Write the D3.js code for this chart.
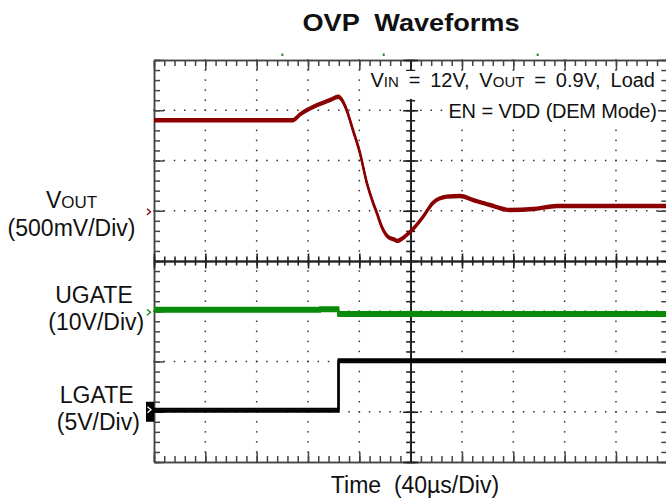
<!DOCTYPE html>
<html>
<head>
<meta charset="utf-8">
<script src="https://cdn.jsdelivr.net/npm/d3@7"></script>
<style>
  body { margin: 0; background: #fff; }
  text { font-family: "Liberation Sans", Arial, sans-serif; fill: #111; }
</style>
</head>
<body>
<svg id="chart" width="666" height="500"></svg>
<script>
// time in us (40us/div, centre = 0), values in volts
var voutTime = [-200, -92, -86, -73, -63, -56.4, -52.7, -49.8, -44.9, -39.5, -34.2, -29.3, -26.4, -22.5, -17.6, -12.2, -10.8, -3, 3.4, 9.7, 17.5, 28.1, 38.5, 48.7, 61.9, 77.5, 95.5, 114, 140, 200];
var voutVal = [0.9, 0.9, 0.96, 1.05, 1.10, 1.135, 1.085, 1.0, 0.8, 0.575, 0.28, 0.08, -0.02, -0.16, -0.26, -0.29, -0.30, -0.24, -0.16, -0.06, 0.08, 0.14, 0.147, 0.107, 0.057, 0.007, 0.017, 0.047, 0.047, 0.047];

var ugateTime = [-200, -70.6, -70.6, -56.4, -56.4, 200];
var ugateVal = [0.3, 0.3, 0.42, 0.42, -0.55, -0.55];

var lgateTime = [-200, -56.2, -56.2, 200];
var lgateVal = [0.15, 0.15, 5.07, 5.07];

var triggerMarks = [-100, -21, 99];

var svg = d3.select("#chart"),
  pLeft = 154, pTop = 60, pRight = 667.3, pBottom = 462;

var x = d3.scaleLinear().domain([-200, 200]).range([pLeft, pRight]);
var y = d3.scaleLinear().domain([-4, 4]).range([pBottom, pTop]);

var xMinor = d3.range(-200, 200.1, 8),
  xMajor = d3.range(-200, 200.1, 40),
  yMinor = d3.range(-4, 4.01, 0.2).map(function(d) { return Math.round(d * 10) / 10 }),
  yMajor = d3.range(-4, 4.01, 1);

// dotted grid
var grid = svg.append("g").attr("fill", "#333");
xMajor.filter(function(d) { return d != -200 && d != 0 && d != 200 }).forEach(function(t) {
  grid.selectAll(null).data(yMinor).enter().append("rect")
    .attr("x", x(t) - 0.75).attr("y", function(d) { return y(d) - 0.75 })
    .attr("width", 1.5).attr("height", 1.5);
});
yMajor.filter(function(d) { return d != -4 && d != 0 && d != 4 }).forEach(function(v) {
  grid.selectAll(null).data(xMinor).enter().append("rect")
    .attr("x", function(d) { return x(d) - 0.75 }).attr("y", y(v) - 0.75)
    .attr("width", 1.5).attr("height", 1.5);
});

// borders and centre axes with scope ticks
function scopeAxis(fn, scale, values, size) {
  return fn(scale).tickValues(values).tickSize(size).tickSizeOuter(0).tickFormat("");
}
function addAxis(axis, tx, ty, color, width) {
  var g = svg.append("g").attr("transform", "translate(" + tx + "," + ty + ")").call(axis);
  g.selectAll("path, line").attr("stroke", color).attr("stroke-width", width);
  return g;
}
var border = "#444";
addAxis(scopeAxis(d3.axisBottom, x, xMinor, 6), 0, pTop, border, 1.5);
addAxis(scopeAxis(d3.axisBottom, x, xMajor, 10), 0, pTop, border, 1.5);
addAxis(scopeAxis(d3.axisTop, x, xMinor, 6), 0, pBottom, border, 1.5);
addAxis(scopeAxis(d3.axisTop, x, xMajor, 10), 0, pBottom, border, 1.5);
addAxis(scopeAxis(d3.axisRight, y, yMinor, 6), pLeft, 0, border, 1.5);
addAxis(scopeAxis(d3.axisRight, y, yMajor, 10), pLeft, 0, border, 1.5);
addAxis(scopeAxis(d3.axisLeft, y, yMinor, 6), pRight, 0, border, 1.5);
addAxis(scopeAxis(d3.axisLeft, y, yMajor, 10), pRight, 0, border, 1.5);

// centre cross axes
[d3.axisTop, d3.axisBottom].forEach(function(fn) {
  addAxis(scopeAxis(fn, x, xMinor, 4.5), 0, y(0), "#222", 1.6);
  addAxis(scopeAxis(fn, x, xMajor, 7.5), 0, y(0), "#222", 1.6);
});
[d3.axisLeft, d3.axisRight].forEach(function(fn) {
  addAxis(scopeAxis(fn, y, yMinor, 4.5), x(0), 0, "#222", 1.6);
  addAxis(scopeAxis(fn, y, yMajor, 7.5), x(0), 0, "#222", 1.6);
});

// annotation boxes (white behind text)
svg.append("rect").attr("x", 368).attr("y", 71).attr("width", 290).attr("height", 28).attr("fill", "#fff");
svg.append("rect").attr("x", 443).attr("y", 99).attr("width", 215).attr("height", 25).attr("fill", "#fff");

// traces
svg.append("clipPath").attr("id", "plot").append("rect")
  .attr("x", pLeft).attr("y", pTop).attr("width", pRight - pLeft).attr("height", pBottom - pTop);

var channels = [
  {time: voutTime, val: voutVal, perDiv: 0.5, offset: 1, color: "#8b0000", band: [-1.2, 0, 1.2], curve: d3.curveMonotoneX},
  {time: ugateTime, val: ugateVal, perDiv: 10, offset: -1, color: "#0a8a0a", band: [-2, -0.7, 0.7, 2], curve: d3.curveLinear},
  {time: lgateTime, val: lgateVal, perDiv: 5, offset: -3, color: "#000", band: [-1.5, 0, 1.5], curve: d3.curveLinear}
];

var traces = svg.append("g").attr("clip-path", "url(#plot)");
channels.forEach(function(c) {
  var pts = c.time.map(function(t, i) { return [t, c.val[i]] });
  c.band.forEach(function(dy) {
    var line = d3.line()
      .x(function(d) { return x(d[0]) })
      .y(function(d) { return y(c.offset + d[1] / c.perDiv) + dy })
      .curve(c.curve);
    traces.append("path")
      .datum(pts)
      .attr("fill", "none")
      .attr("stroke", c.color)
      .attr("stroke-width", 2)
      .attr("d", line);
  });
});

// channel ground markers
function chevron(cx, cy, color) {
  svg.append("path")
    .attr("d", "M" + (cx - 2) + "," + (cy - 3) + "L" + (cx + 1.5) + "," + cy + "L" + (cx - 2) + "," + (cy + 3))
    .attr("fill", "none").attr("stroke", color).attr("stroke-width", 1.3);
}
chevron(149, y(channels[0].offset) + 1, "#8b0000");
chevron(149, y(channels[1].offset) + 1, "#0a8a0a");
svg.append("rect").attr("x", 146).attr("y", y(channels[2].offset) - 10).attr("width", 8).attr("height", 20).attr("fill", "#000");
chevron(149.5, y(channels[2].offset) - 2, "#fff");

svg.selectAll(null).data(triggerMarks).enter().append("rect")
  .attr("x", function(d) { return x(d) - 1 }).attr("y", 53.5)
  .attr("width", 2).attr("height", 2.5).attr("fill", "#2a8a2a");

// titles and labels
svg.append("text").attr("x", 411).attr("y", 30.5).attr("text-anchor", "middle")
  .attr("font-size", 24).attr("font-weight", "bold")
  .attr("textLength", 217).attr("lengthAdjust", "spacingAndGlyphs")
  .style("white-space", "pre").text("OVP  Waveforms");

svg.append("text").attr("x", 415).attr("y", 493).attr("text-anchor", "middle")
  .attr("font-size", 23).style("white-space", "pre").text("Time  (40\u00b5s/Div)");

var vlab = svg.append("text").attr("x", 71.5).attr("y", 208).attr("text-anchor", "middle").attr("font-size", 23);
vlab.append("tspan").text("V");
vlab.append("tspan").attr("font-size", 17).text("OUT");

var labels = [
  {t: "(500mV/Div)", x: 71.5, y: 236},
  {t: "UGATE", x: 94, y: 303},
  {t: "(10V/Div)", x: 96.3, y: 330},
  {t: "LGATE", x: 96.7, y: 403},
  {t: "(5V/Div)", x: 98.3, y: 430}
];
svg.selectAll(null).data(labels).enter().append("text")
  .attr("x", function(d) { return d.x }).attr("y", function(d) { return d.y })
  .attr("text-anchor", "middle").attr("font-size", 23)
  .text(function(d) { return d.t });

var note = svg.append("text").attr("x", 655).attr("y", 87).attr("text-anchor", "end")
  .attr("font-size", 20).attr("word-spacing", 4.3);
note.append("tspan").text("V");
note.append("tspan").attr("font-size", 15).text("IN");
note.append("tspan").text(" = 12V, V");
note.append("tspan").attr("font-size", 15).text("OUT");
note.append("tspan").text(" = 0.9V, Load");

svg.append("text").attr("x", 656.5).attr("y", 118.3).attr("text-anchor", "end")
  .attr("font-size", 20).attr("letter-spacing", -0.3).attr("word-spacing", 0.5)
  .text("EN = VDD (DEM Mode)");
</script>
</body>
</html>
